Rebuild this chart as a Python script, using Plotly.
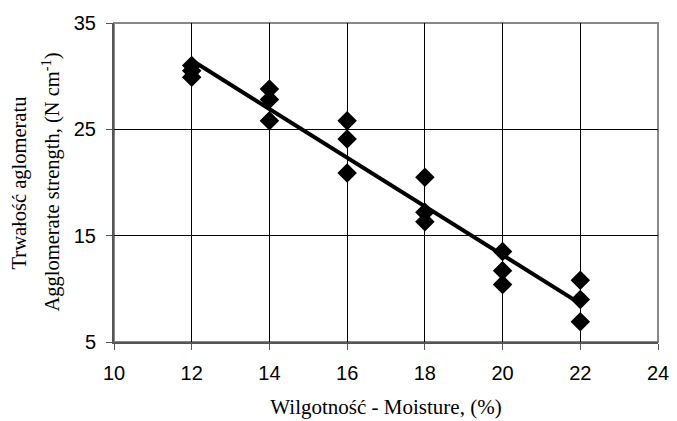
import numpy as np
import plotly.graph_objects as go

moisture = [12, 12, 12, 14, 14, 14, 16, 16, 16, 18, 18, 18, 20, 20, 20, 22, 22, 22]
strength = [31.0, 30.5, 29.9, 28.8, 27.8, 25.8, 25.8, 24.1, 20.9,
            20.5, 17.2, 16.3, 13.5, 11.7, 10.4, 10.8, 9.0, 6.9]

x_ticks = [10, 12, 14, 16, 18, 20, 22, 24]
y_ticks = [5, 15, 25, 35]

slope, intercept = np.polyfit(moisture, strength, 1)
fit_x = [min(moisture), max(moisture)]
fit_y = [slope * v + intercept for v in fit_x]

serif = "Liberation Serif, Times New Roman"

fig = go.Figure()
fig.add_trace(go.Scatter(x=fit_x, y=fit_y, mode="lines",
                         line=dict(color="black", width=4), showlegend=False))
fig.add_trace(go.Scatter(x=moisture, y=strength, mode="markers",
                         marker=dict(symbol="diamond", size=15, color="black"),
                         showlegend=False))

fig.update_layout(
    width=677, height=421,
    margin=dict(l=114, r=19, t=23, b=79),
    plot_bgcolor="white", paper_bgcolor="white",
    font=dict(family="Liberation Sans, Arial", size=20, color="black"),
    xaxis=dict(range=[10, 24], tickvals=x_ticks, showgrid=True, gridcolor="black",
               gridwidth=1, ticks="outside", ticklen=6, tickcolor="#555",
               showline=True, linecolor="#555", linewidth=2, mirror=False,
               zeroline=False, ticklabelstandoff=6, automargin=False,
               title=dict(text="Wilgotność - Moisture, (%)",
                          font=dict(family=serif, size=21),
                          standoff=16)),
    yaxis=dict(range=[5, 35], tickvals=y_ticks, showgrid=True, gridcolor="black",
               gridwidth=1, ticks="outside", ticklen=6, tickcolor="#555",
               showline=True, linecolor="#555", linewidth=2, zeroline=False,
               ticklabelstandoff=6, automargin=False),
    shapes=[dict(type="rect", xref="paper", yref="paper", x0=0, x1=1, y0=0, y1=1,
                 line=dict(color="#888", width=2), layer="below")],
    annotations=[
        dict(text="Trwałość aglomeratu", xref="paper", yref="paper",
             x=-0.1728, y=0.5, xanchor="center", yanchor="middle", textangle=-90,
             showarrow=False,
             font=dict(family=serif, size=20.5)),
        dict(text="Agglomerate strength, (N cm<sup>-1</sup>)", xref="paper", yref="paper",
             x=-0.1158, y=0.5, xanchor="center", yanchor="middle", textangle=-90,
             showarrow=False,
             font=dict(family=serif, size=20.5)),
    ],
)

fig.write_html("out.html")
